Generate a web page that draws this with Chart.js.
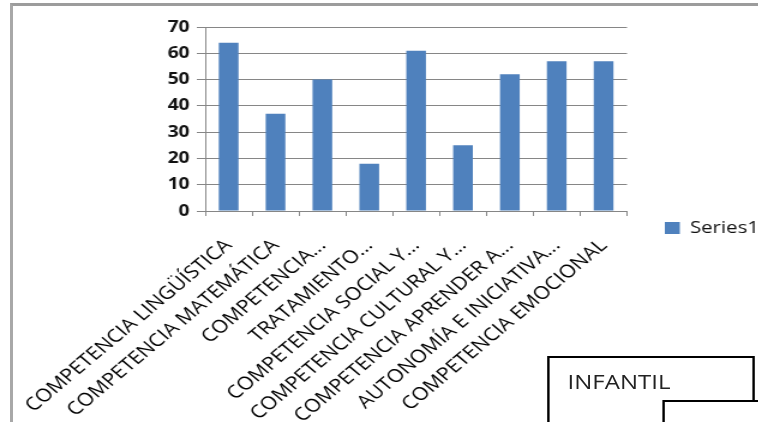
<!DOCTYPE html>
<html>
<head>
<meta charset="utf-8">
<script src="https://cdn.jsdelivr.net/npm/chart.js@4.4.0/dist/chart.umd.min.js"></script>
<style>
  html, body { margin: 0; padding: 0; background: #fff; overflow: hidden; }
  #page { position: relative; width: 758px; height: 422px; overflow: hidden; }
  #frame { position: absolute; left: 10px; top: 3px; width: 760px; height: 430px;
           border-left: 3px solid #a8a8a8; border-top: 3px solid #9c9c9c; }
  /* the source picture is stretched sideways, so the chart is drawn narrow and widened */
  #stretch { position: absolute; left: 0; top: 0; width: 632px; height: 422px;
             transform: scaleX(1.2); transform-origin: 0 0; }
  #chartBox { position: absolute; left: 0; top: 0; width: 632px; height: 422px; }
  .note { position: absolute; border: 2px solid #000; background: #fff; box-sizing: border-box; }
  .note span { position: absolute; left: 15px; top: 10px; font: 20px "Open Sans", sans-serif; color: #222; }
</style>
</head>
<body>
<div id="page">
  <div id="frame"></div>
  <div id="stretch">
    <div id="chartBox"><canvas id="barChart"></canvas></div>
    <div class="note" style="left:456px; top:356px; width:173px; height:100px;"><span>INFANTIL</span></div>
    <div class="note" style="left:552px; top:400px; width:100px; height:60px;"></div>
  </div>
</div>
<script>
/* ===== DATA ===== */
const categories = [
    "COMPETENCIA LINGÜÍSTICA",
    "COMPETENCIA MATEMÁTICA",
    "COMPETENCIA...",
    "TRATAMIENTO...",
    "COMPETENCIA SOCIAL Y...",
    "COMPETENCIA CULTURAL Y...",
    "COMPETENCIA APRENDER A...",
    "AUTONOMÍA E INICIATIVA...",
    "COMPETENCIA EMOCIONAL"
];
const series1 = [64, 37, 50, 18, 61, 25, 52, 57, 57];
const seriesName = "Series1";
const yMin = 0;
const yMax = 70;
const yStep = 10;

/* ===== LAYOUT ===== */
const FONT = "'Open Sans', sans-serif";
const legendSize = 17;
const legendPad = 31.5;
const boxW = 12.5;

const probe = document.createElement("canvas").getContext("2d");
probe.font = legendSize + "px " + FONT;
const legendW = legendPad + boxW + legendSize / 2 + probe.measureText(seriesName).width + 10;
const plotRight = 522.5;
const padRight = 632 - plotRight - legendW;

/* ===== BAR CHART ===== */
new Chart(document.getElementById("barChart"), {
    type: "bar",
    data: {
        labels: categories,
        datasets: [{
            label: seriesName,
            data: series1,
            backgroundColor: "#4f81bd",
            borderWidth: 0,
            barPercentage: 0.42,
            categoryPercentage: 1
        }]
    },
    options: {
        responsive: true,
        maintainAspectRatio: false,
        animation: false,
        layout: { padding: { top: 27, right: padRight, bottom: -7, left: 0 } },
        plugins: {
            legend: {
                position: "right",
                labels: {
                    boxWidth: boxW,
                    boxHeight: 12,
                    padding: legendPad,
                    color: "#111",
                    font: { family: FONT, size: legendSize }
                }
            },
            tooltip: { enabled: false }
        },
        scales: {
            x: {
                grid: { drawOnChartArea: false, offset: true, tickLength: 5, color: "#868686" },
                border: { color: "#868686" },
                ticks: {
                    autoSkip: false,
                    minRotation: 45,
                    maxRotation: 45,
                    padding: 19,
                    color: "#000",
                    font: { family: FONT, size: 18 }
                },
                // long slanted labels may hang past the left edge, like in the source
                afterFit: s => { s.height = 218; s.paddingLeft = 0; s.paddingRight = 0; }
            },
            y: {
                min: yMin,
                max: yMax,
                ticks: {
                    stepSize: yStep,
                    padding: 6,
                    color: "#111",
                    font: { family: FONT, size: 16, weight: "bold" }
                },
                grid: { color: "#868686", tickLength: 7 },
                border: { color: "#868686" },
                afterFit: s => { s.width = 171; }
            }
        }
    }
});
</script>
</body>
</html>
